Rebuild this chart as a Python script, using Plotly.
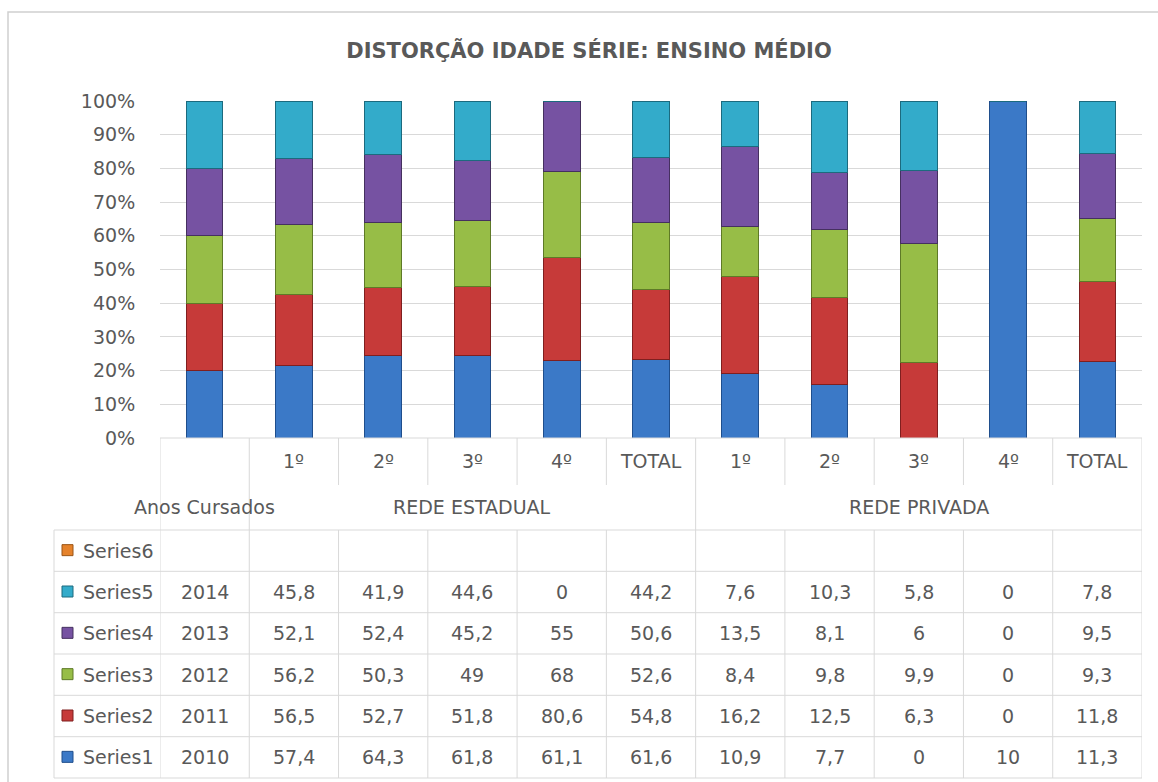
import plotly.graph_objects as go

categories = ["", "1º", "2º", "3º", "4º", "TOTAL", "1º", "2º", "3º", "4º", "TOTAL"]
groups = [("Anos Cursados", 0), ("REDE ESTADUAL", 3), ("REDE PRIVADA", 8)]
series_names = ["Series1", "Series2", "Series3", "Series4", "Series5", "Series6"]

series1 = [2010, 57.4, 64.3, 61.8, 61.1, 61.6, 10.9, 7.7, 0, 10, 11.3]
series2 = [2011, 56.5, 52.7, 51.8, 80.6, 54.8, 16.2, 12.5, 6.3, 0, 11.8]
series3 = [2012, 56.2, 50.3, 49, 68, 52.6, 8.4, 9.8, 9.9, 0, 9.3]
series4 = [2013, 52.1, 52.4, 45.2, 55, 50.6, 13.5, 8.1, 6, 0, 9.5]
series5 = [2014, 45.8, 41.9, 44.6, 0, 44.2, 7.6, 10.3, 5.8, 0, 7.8]
series6 = [None] * 11

all_series = [series1, series2, series3, series4, series5, series6]
colors = ["#3B79C7", "#C63A39", "#97BD47", "#7652A2", "#33ABCA", "#E5822B"]
edges = ["#1F4E8C", "#7F1F1F", "#5E7A27", "#45305F", "#1C6A7E", "#9A5416"]

TEXT = "#595959"
GRID = "#D9D9D9"
FONT = "DejaVu Sans"

W, H = 1158, 782
L, R, T, B = 160, 16, 101, 344
PH = H - T - B


def py(pix):
    return (H - B - pix) / PH


def pxx(pix):
    return (pix - L) / (W - L - R)


def fmt(v):
    if v is None:
        return ""
    if float(v).is_integer():
        return str(int(v))
    return str(v).replace(".", ",")


xs = list(range(len(categories)))
fig = go.Figure()
for name, vals, c, e in zip(series_names, all_series, colors, edges):
    fig.add_trace(go.Bar(x=xs, y=vals, name=name, marker=dict(color=c, line=dict(color=e, width=1)),
                         width=0.41, showlegend=False))

shapes = []
annotations = []
line = dict(color=GRID, width=1)
n = len(categories)
row_lines = [530, 571.3, 612.7, 654, 695.3, 736.7, 778]
for i in range(n + 1):
    shapes.append(dict(type="line", xref="x", yref="paper", x0=i - 0.5, x1=i - 0.5,
                       y0=py(438), y1=py(485), line=line))
for b in [-0.5, 0.5, 5.5, 10.5]:
    shapes.append(dict(type="line", xref="x", yref="paper", x0=b, x1=b,
                       y0=py(485), y1=py(530), line=line))
for i in range(n + 1):
    shapes.append(dict(type="line", xref="x", yref="paper", x0=i - 0.5, x1=i - 0.5,
                       y0=py(530), y1=py(778), line=line))
shapes.append(dict(type="line", xref="paper", yref="paper", x0=pxx(54), x1=pxx(54),
                   y0=py(530), y1=py(778), line=line))
shapes.append(dict(type="line", xref="x", yref="paper", x0=-0.5, x1=n - 0.5,
                   y0=py(438), y1=py(438), line=line))
for yy in row_lines:
    shapes.append(dict(type="line", xref="paper", yref="paper", x0=pxx(54), x1=1,
                       y0=py(yy), y1=py(yy), line=line))
shapes.append(dict(type="rect", xref="paper", yref="paper", x0=pxx(8), x1=pxx(1170),
                   y0=py(800), y1=py(12), line=dict(color="#D0D0D0", width=1.5)))

tf = dict(family=FONT, size=19, color=TEXT)
for i, c in enumerate(categories):
    if c:
        annotations.append(dict(x=i, y=py(461), xref="x", yref="paper", text=c, showarrow=False,
                                font=tf, xanchor="center", yanchor="middle"))
for g, gx in groups:
    annotations.append(dict(x=gx, y=py(507), xref="x", yref="paper", text=g, showarrow=False,
                            font=tf, xanchor="center", yanchor="middle"))

order = list(range(len(series_names)))[::-1]
for r, si in enumerate(order):
    ytop, ybot = row_lines[r], row_lines[r + 1]
    yc = (ytop + ybot) / 2
    shapes.append(dict(type="rect", xref="paper", yref="paper", x0=pxx(62), x1=pxx(73),
                       y0=py(yc + 5), y1=py(yc - 6), fillcolor=colors[si],
                       line=dict(color=edges[si], width=1)))
    annotations.append(dict(x=pxx(81), y=py(yc), xref="paper", yref="paper", text=series_names[si],
                            showarrow=False, font=tf, xanchor="left", yanchor="middle"))
    for i, v in enumerate(all_series[si]):
        if v is None:
            continue
        annotations.append(dict(x=i, y=py(yc), xref="x", yref="paper", text=fmt(v),
                                showarrow=False, font=tf, xanchor="center", yanchor="middle"))

fig.update_layout(
    width=W, height=H,
    margin=dict(l=L, r=R, t=T, b=B, autoexpand=False),
    barmode="stack", barnorm="percent",
    paper_bgcolor="white", plot_bgcolor="white",
    title=dict(text="<b>DISTORÇÃO IDADE SÉRIE: ENSINO MÉDIO</b>", x=589 / W,
               xanchor="center", y=1 - 51 / H, yanchor="middle",
               font=dict(family=FONT, size=21, color=TEXT)),
    xaxis=dict(range=[-0.5, n - 0.5], showticklabels=False, showgrid=False, zeroline=False,
               showline=False, ticks=""),
    yaxis=dict(range=[0, 100], dtick=10, ticksuffix="%", showgrid=True, gridcolor=GRID, gridwidth=1,
               zeroline=False, showline=False, ticks="outside", ticklen=20,
               tickcolor="rgba(0,0,0,0)", tickfont=dict(family=FONT, size=19, color=TEXT)),
    shapes=shapes, annotations=annotations,
)

fig.write_html("out.html", config={"displayModeBar": False},
               post_script="document.body.style.margin='0';document.body.style.overflow='hidden';")
